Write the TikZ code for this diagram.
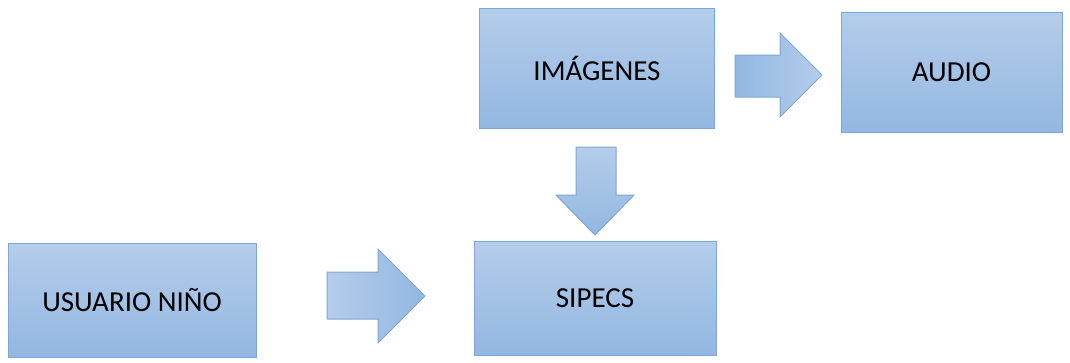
\documentclass[tikz,border=0pt]{standalone}
\usepackage{fontspec}
\setmainfont{Carlito}
\definecolor{boxtop}{HTML}{B4CDEA}
\definecolor{boxbot}{HTML}{93B7E1}
\definecolor{boxline}{HTML}{7EA6D8}
\begin{document}
\begin{tikzpicture}[x=1pt,y=-1pt,
  blockbox/.style={draw=boxline,line width=1pt,top color=boxtop,bottom color=boxbot,
    font=\fontsize{29}{32}\selectfont,text=black,inner sep=0pt},
  blockarrow/.style={draw=boxline,line width=1pt,line join=miter}]
\useasboundingbox (0,0) rectangle (1070,362);
\node[blockbox,minimum width=235pt,minimum height=120pt] (img) at (597,68) {IMÁGENES};
\node[blockbox,minimum width=221pt,minimum height=120pt] (aud) at (951.5,72) {AUDIO};
\node[blockbox,minimum width=248pt,minimum height=114pt] (usr) at (132,300) {USUARIO NIÑO};
\node[blockbox,minimum width=242pt,minimum height=114pt] (sip) at (595,298) {SIPECS};
% right arrow IMAGENES -> AUDIO
\draw[blockarrow,left color=boxbot,right color=boxtop]
  (735,55) -- (780,55) -- (780,33) -- (822,75) -- (780,117) -- (780,97) -- (735,97) -- cycle;
% right arrow USUARIO -> SIPECS
\draw[blockarrow,left color=boxtop,right color=boxbot]
  (327,272) -- (378,272) -- (378,249) -- (425,296) -- (378,343) -- (378,319) -- (327,319) -- cycle;
% down arrow IMAGENES -> SIPECS
\draw[blockarrow,top color=boxtop,bottom color=boxbot]
  (576,147) -- (616,147) -- (616,195) -- (634,195) -- (595,235) -- (556,195) -- (576,195) -- cycle;
\end{tikzpicture}
\end{document}
